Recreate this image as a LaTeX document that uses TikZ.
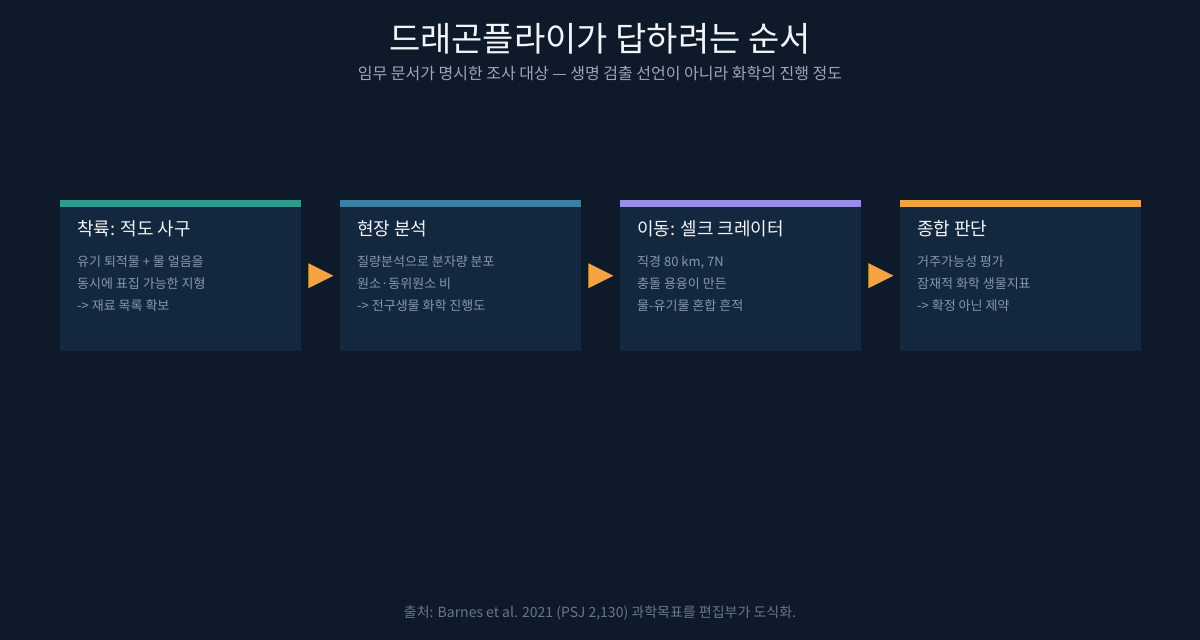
\documentclass[tikz,border=0pt]{standalone}
\usepackage{fontspec}
\setmainfont{Noto Sans CJK KR}
\usetikzlibrary{calc}
\definecolor{bg}{HTML}{0E1A2A}
\definecolor{boxfill}{HTML}{13283E}
\definecolor{titlecol}{HTML}{F2F4F7}
\definecolor{subcol}{HTML}{9AA8B8}
\definecolor{bodycol}{HTML}{8797AB}
\definecolor{footcol}{HTML}{66778B}
\definecolor{cteal}{HTML}{2A9D8F}
\definecolor{cblue}{HTML}{3D7EA6}
\definecolor{cviolet}{HTML}{9B8CE8}
\definecolor{corange}{HTML}{F4A340}
\tikzset{
  card/.style={fill=boxfill, draw=none, minimum width=241pt, minimum height=151pt, inner sep=0, anchor=north west},
  cardbar/.style={fill=#1, draw=none, minimum width=241pt, minimum height=7pt, inner sep=0, anchor=north west},
  cardtitle/.style={anchor=base west, inner sep=0, text=titlecol, font=\fontsize{18}{21}\selectfont},
  cardbody/.style={anchor=base west, inner sep=0, text=bodycol, font=\fontsize{13}{16}\selectfont},
  flowarrow/.style={fill=corange, draw=none},
}
\begin{document}
\begin{tikzpicture}[x=1pt,y=-1pt]
\fill[bg] (0,0) rectangle (1200,640);
\useasboundingbox (0,0) rectangle (1200,640);

\node[anchor=base, inner sep=0, text=titlecol, font=\fontsize{34}{38}\selectfont] (title) at (600,51) {드래곤플라이가 답하려는 순서};
\node[anchor=base, inner sep=0, text=subcol, font=\fontsize{16}{19}\selectfont] (subtitle) at (600,79) {임무 문서가 명시한 조사 대상 — 생명 검출 선언이 아니라 화학의 진행 정도};

% cards
\node[card] (b1) at (60,200) {};
\node[cardbar=cteal] (bar1) at (60,200) {};
\node[card] (b2) at (340,200) {};
\node[cardbar=cblue] (bar2) at (340,200) {};
\node[card] (b3) at (620,200) {};
\node[cardbar=cviolet] (bar3) at (620,200) {};
\node[card] (b4) at (900,200) {};
\node[cardbar=corange] (bar4) at (900,200) {};

% card 1
\node[cardtitle] (t1) at (77,235) {착륙: 적도 사구};
\node[cardbody] (l1a) at (77,266) {유기 퇴적물 + 물 얼음을};
\node[cardbody] (l1b) at (77,288) {동시에 표집 가능한 지형};
\node[cardbody] (l1c) at (77,310) {-> 재료 목록 확보};
% card 2
\node[cardtitle] (t2) at (357,235) {현장 분석};
\node[cardbody] (l2a) at (357,266) {질량분석으로 분자량 분포};
\node[cardbody] (l2b) at (357,288) {원소·동위원소 비};
\node[cardbody] (l2c) at (357,310) {-> 전구생물 화학 진행도};
% card 3
\node[cardtitle] (t3) at (637,235) {이동: 셀크 크레이터};
\node[cardbody] (l3a) at (637,266) {직경 80 km, 7N};
\node[cardbody] (l3b) at (637,288) {충돌 용융이 만든};
\node[cardbody] (l3c) at (637,310) {물-유기물 혼합 흔적};
% card 4
\node[cardtitle] (t4) at (917,235) {종합 판단};
\node[cardbody] (l4a) at (917,266) {거주가능성 평가};
\node[cardbody] (l4b) at (917,288) {잠재적 화학 생물지표};
\node[cardbody] (l4c) at (917,310) {-> 확정 아닌 제약};

% arrows between cards
\foreach \a in {b1,b2,b3}{
  \fill[flowarrow] ($(\a.east)+(7,-12.5)$) -- ($(\a.east)+(32,0)$) -- ($(\a.east)+(7,12.5)$) -- cycle;
}

\node[anchor=base, inner sep=0, text=footcol, font=\fontsize{14}{17}\selectfont] (foot) at (600,617) {출처: Barnes et al. 2021 (PSJ 2,130) 과학목표를 편집부가 도식화.};
\end{tikzpicture}
\end{document}
